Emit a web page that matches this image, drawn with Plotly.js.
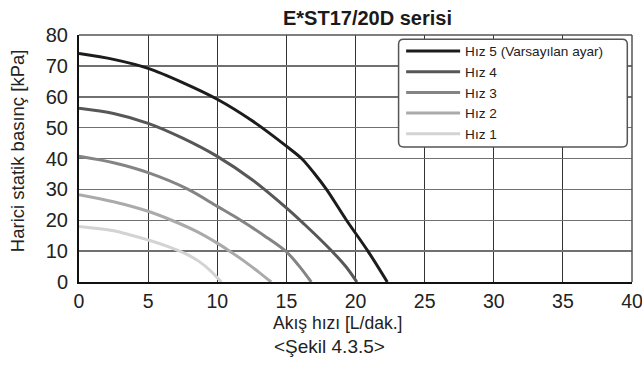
<!DOCTYPE html>
<html>
<head>
<meta charset="utf-8">
<script src="https://cdn.plot.ly/plotly-3.0.1.min.js"></script>
<style>html,body{margin:0;padding:0;background:#fff;}#chart{width:642px;height:368px;}</style>
</head>
<body>
<div id="chart"></div>
<script>
// Series: flow rate [L/dak.] vs external static pressure [kPa]
const seriesNames = ["Hız 5 (Varsayılan ayar)", "Hız 4", "Hız 3", "Hız 2", "Hız 1"];
const hiz5X = [0, 2.5, 5, 7.5, 10, 12.5, 15, 16.1, 17, 17.9, 19.35, 20.9, 22.3];
const hiz5Y = [74, 72.1, 69.2, 64.6, 59.2, 52.3, 44, 40, 35.3, 30, 20, 10, 0];
const hiz4X = [0, 2.5, 5, 7.5, 10, 12.5, 15, 16.3, 17.4, 18.4, 19.3, 20.1];
const hiz4Y = [56.3, 54.6, 51.4, 46.6, 40.7, 33.2, 24, 18.7, 14.0, 9.5, 5.0, 0];
const hiz3X = [0, 2.5, 5, 7.9, 10, 11.7, 13.4, 15, 15.9, 16.8];
const hiz3Y = [40.7, 38.6, 35.4, 30, 24.5, 20, 15, 9.8, 5.3, 0];
const hiz2X = [0, 2.5, 5, 6.7, 8.5, 10, 10.9, 12, 13, 13.9];
const hiz2Y = [28.3, 26.0, 22.9, 20, 16.4, 12.6, 10, 6.6, 3.2, 0];
const hiz1X = [0, 2.5, 5, 6.5, 7.7, 8.7, 9.5, 10.3];
const hiz1Y = [18, 16.6, 13.6, 11.4, 9.2, 6.6, 3.7, 0];
const xTicks = [0, 5, 10, 15, 20, 25, 30, 35, 40];
const yTicks = [0, 10, 20, 30, 40, 50, 60, 70, 80];
const chartTitle = "E*ST17/20D serisi";
const xTitle = "Akış hızı [L/dak.]";
const yTitle = "Harici statik basınç [kPa]";
const caption = "<Şekil 4.3.5>";

const FONT = "Liberation Sans, Arial, Helvetica, sans-serif";
const colors = ["#1c1c1c", "#575757", "#848484", "#aaaaaa", "#d3d3d3"];
const xs = [hiz5X, hiz4X, hiz3X, hiz2X, hiz1X];
const ys = [hiz5Y, hiz4Y, hiz3Y, hiz2Y, hiz1Y];

const traces = seriesNames.map((n, i) => ({
  type: "scatter", mode: "lines", name: n,
  x: xs[i], y: ys[i],
  line: {color: colors[i], width: 3, shape: "spline", smoothing: 0.9},
  hoverinfo: "skip"
}));

// rounded legend box in paper coords
const bx0 = 0.5779, bx1 = 0.9915, by0 = 0.5465, by1 = 0.9826, rx = 0.009, ry = 0.02;
const boxPath = `M${bx0+rx},${by1} L${bx1-rx},${by1} Q${bx1},${by1} ${bx1},${by1-ry} L${bx1},${by0+ry} Q${bx1},${by0} ${bx1-rx},${by0} L${bx0+rx},${by0} Q${bx0},${by0} ${bx0},${by0+ry} L${bx0},${by1-ry} Q${bx0},${by1} ${bx0+rx},${by1} Z`;

const layout = {
  width: 642, height: 368,
  margin: {l: 79.3, r: 10, t: 34.7, b: 85.7, pad: 0},
  paper_bgcolor: "#ffffff", plot_bgcolor: "#ffffff",
  font: {family: FONT, color: "#222"},
  title: {text: "<b>" + chartTitle + "</b>", font: {family: FONT, size: 20, color: "#1a1a1a"},
          xref: "container", yref: "container", x: 0.5724, xanchor: "center", y: 0.952, yanchor: "middle"},
  xaxis: {range: [0, 40], tickvals: xTicks, ticktext: xTicks.map(String), showgrid: true,
          gridcolor: "#333333", gridwidth: 1, zeroline: false, showline: true, linecolor: "#111",
          linewidth: 2, ticks: "", tickfont: {size: 19.5, color: "#222"}, ticklabelstandoff: 1,
          ticklabeloverflow: "allow", fixedrange: true},
  yaxis: {range: [0, 80], tickvals: yTicks, ticktext: yTicks.map(String), showgrid: true,
          gridcolor: "#707070", gridwidth: 1.5, zeroline: false, showline: true, linecolor: "#111",
          linewidth: 2, ticks: "", tickfont: {size: 20, color: "#222"}, ticklabelstandoff: 5, fixedrange: true},
  showlegend: true,
  legend: {x: 0.5825, y: 0.997, xanchor: "left", yanchor: "top", bgcolor: "rgba(0,0,0,0)",
           borderwidth: 0, font: {family: FONT, size: 13.6, color: "#222"}, itemwidth: 54,
           tracegroupgap: 0},
  shapes: [
    {type: "line", xref: "paper", yref: "paper", x0: 0, x1: 1, y0: 1, y1: 1, line: {color: "#555", width: 1.5}},
    {type: "line", xref: "paper", yref: "paper", x0: 1, x1: 1, y0: 0, y1: 1, line: {color: "#555", width: 1.5}},
    {type: "path", xref: "paper", yref: "paper", path: boxPath, fillcolor: "#ffffff",
     line: {color: "#555", width: 1.5}, layer: "above"}
  ],
  annotations: [
    {text: xTitle, xref: "paper", yref: "paper", x: 0.4674, y: -0.1665, xanchor: "center", yanchor: "middle",
     showarrow: false, font: {family: FONT, size: 17.5, color: "#222"}},
    {text: caption.replace("<", "&lt;").replace(">", "&gt;"), xref: "paper", yref: "paper", x: 0.4538, y: -0.2594,
     xanchor: "center", yanchor: "middle", showarrow: false, font: {family: FONT, size: 19, color: "#222"}},
    {text: yTitle, xref: "paper", yref: "paper", x: -0.1119, y: 0.5303, xanchor: "center", yanchor: "middle",
     textangle: -90, showarrow: false, font: {family: FONT, size: 18.5, color: "#222"}}
  ]
};

Plotly.newPlot("chart", traces, layout, {displayModeBar: false, staticPlot: true});
</script>
</body>
</html>
